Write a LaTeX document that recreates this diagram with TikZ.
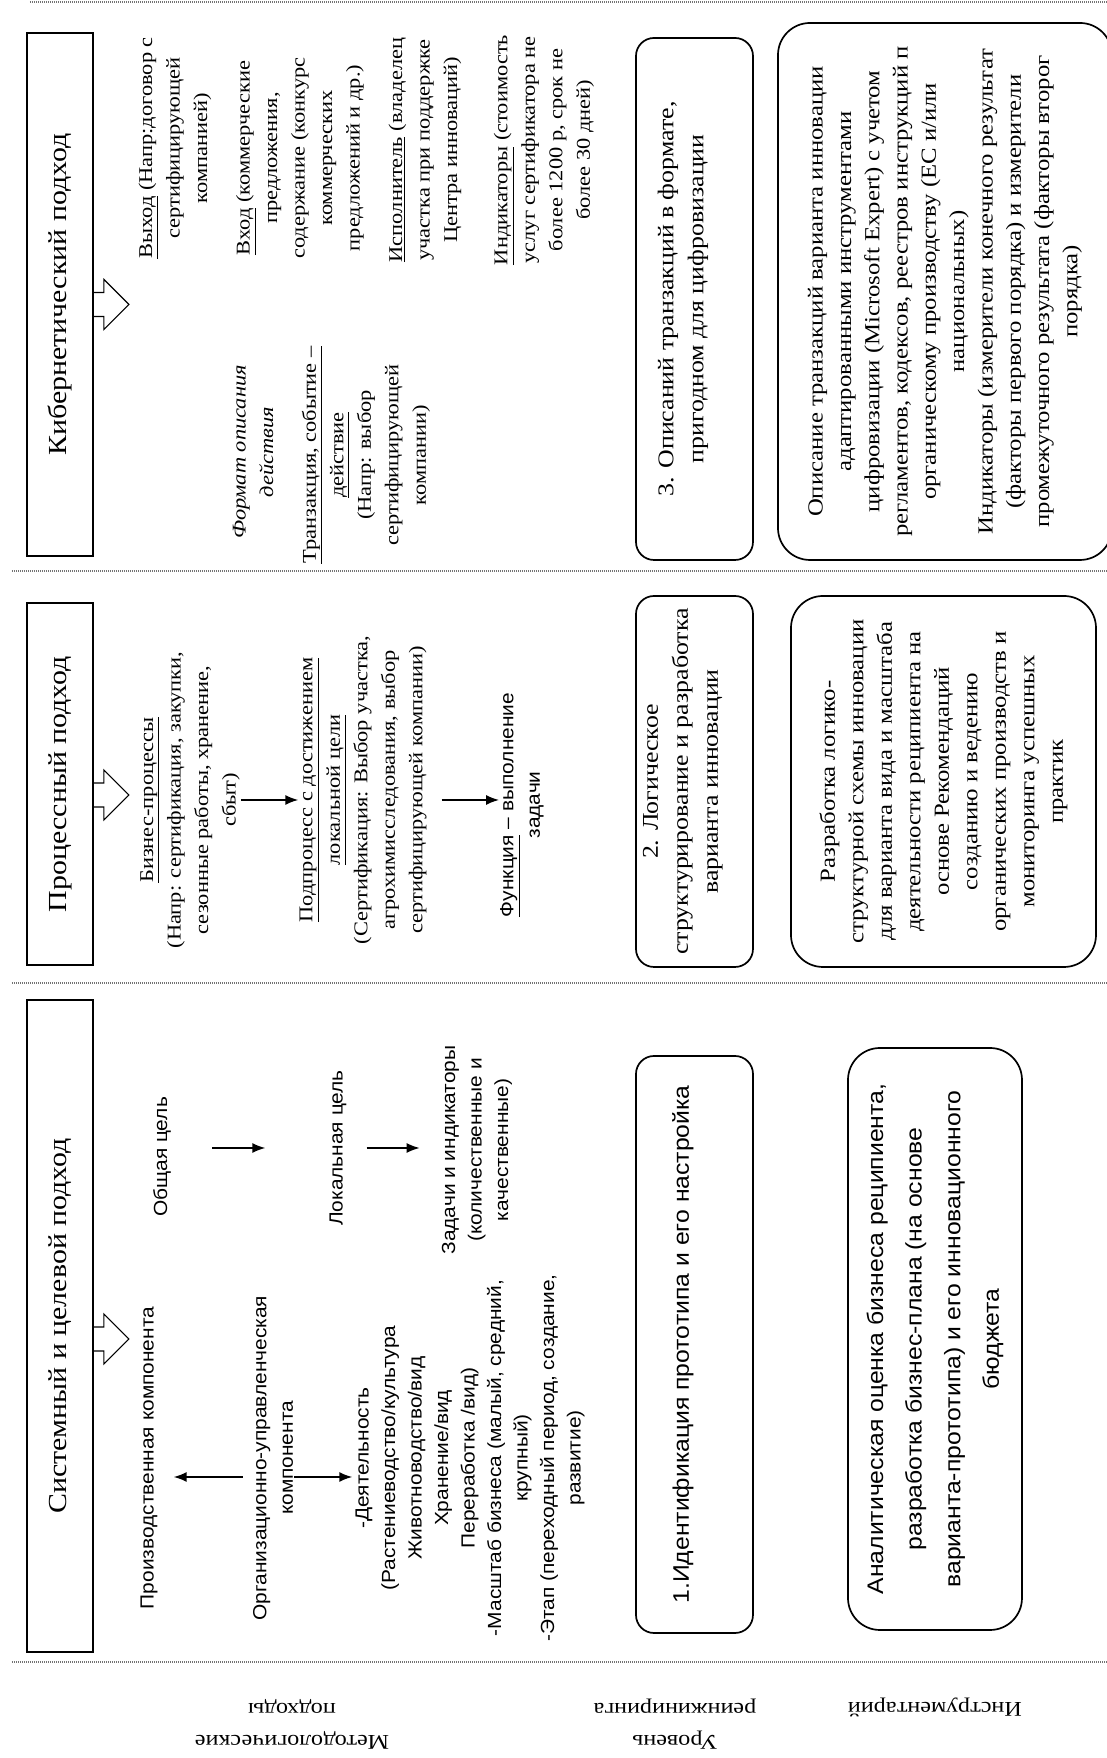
\documentclass[tikz,border=0pt]{standalone}
\usepackage{fontspec}
\setmainfont{Liberation Serif}[FakeStretch=1.15]
\setsansfont{Liberation Sans}[FakeStretch=1.1]
\usepackage{tikz}
\usetikzlibrary{arrows.meta}
\tikzset{>=latex}
\tikzstyle{header}=[draw,line width=1.8,inner sep=0,minimum height=66,
                    font=\fontsize{26}{30}\selectfont]
\tikzstyle{level}=[draw,line width=1.7,rounded corners=18pt,inner sep=0,minimum height=117,
                   text depth=28pt,align=center,font=\fontsize{22.5}{30}\selectfont]
\tikzstyle{tool}=[draw,line width=1.7,rounded corners=32pt,inner sep=0,
                  align=center,font=\fontsize{21.5}{28.5}\selectfont]
\tikzstyle{note}=[align=center,inner sep=1,font=\fontsize{19.5}{27.5}\selectfont]
\tikzstyle{snote}=[align=center,inner sep=1,font=\sffamily\fontsize{19}{26.5}\selectfont]
\tikzstyle{rowname}=[align=center,rotate=90,inner sep=0,font=\fontsize{21}{32}\selectfont]
\tikzstyle{link}=[-{Latex[length=13,width=10]},line width=1.6]
\tikzstyle{divider}=[line width=1.6pt,black!55,dash pattern=on 1pt off 1pt]
\tikzset{fatarrow/.pic={\draw[line width=1.2] (-12,0) -- (-12,-10) -- (-25,-10) -- (0,-35)
                        -- (25,-10) -- (12,-10) -- (12,0);}}

\begin{document}
\begin{tikzpicture}[x=1pt,y=1pt,rotate=90,transform shape]
  \def\L{1758}   % sheet length
  \def\B{1107}   % sheet breadth
  \def\hy{1047}  % header row
  \def\ly{412.5} % level row
  \path[use as bounding box,clip] (0,0) rectangle (\L,\B);

  % SEPARATORS
  \draw[divider] (1756,1077) -- (1756,0);
  \foreach \X in {96,775,1187}
    \draw[divider] (\X,1095) -- (\X,0);

  % ROW NAMES
  \node[rowname] (meth)  at (34,815) {Методологические\\подходы};
  \node[rowname] (reeng) at (34,432) {Уровень\\реинжиниринга};
  \node[rowname] (tools) at (51,172) {Инструментарий};

  % HEADERS
  \node[header,minimum width=652] (sys)  at (432,\hy)    {Системный и целевой подход};
  \node[header,minimum width=362] (proc) at (974,\hy)    {Процессный подход};
  \node[header,minimum width=523] (kib)  at (1463.5,\hy) {Кибернетический подход};
  \pic at ([xshift=-13pt]sys.south)  {fatarrow};
  \pic at ([xshift=-11pt]proc.south) {fatarrow};
  \pic at ([xshift=-10pt]kib.south)  {fatarrow};

  % SYSTEM APPROACH
  \node[snote] (prod)  at (300,958) {Производственная компонента};
  \node[snote] (org)   at (300,834) {Организационно-управленческая\\компонента};
  \node[snote] (act)   at (300,637) {-Деятельность\\(Растениеводство/культура\\Животноводство/вид\\Хранение/вид\\Переработка /вид)\\-Масштаб бизнеса (малый, средний,\\крупный)\\-Этап (переходный период, создание,\\развитие)};
  \node[snote] (goal)  at (601,945) {Общая цель};
  \node[snote] (lgoal) at (610,769) {Локальная цель};
  \node[snote] (task)  at (608,630) {Задачи и индикаторы\\(количественные и\\качественные)};
  \draw[link,shorten <=9pt,shorten >=15pt] ([xshift=-19pt]org.north) -- ([xshift=-19pt]prod.south);
  \draw[link,shorten >=2pt] ([xshift=-19pt]org.south) -- ([xshift=-19pt]act.north);
  \draw[link,shorten <=40pt,shorten >=63pt] (lgoal.north |- goal.south) -- (lgoal.north);
  \draw[link,shorten <=19pt,shorten >=21pt] (lgoal.south) -- (lgoal.south |- task.north);

  % PROCESS APPROACH
  \node[note] (bp)  at (958,917) {\underline{Бизнес-процессы}\\(Напр: сертификация, закупки,\\сезонные работы, хранение,\\сбыт)};
  \node[note] (sub) at (968,744) {\underline{Подпроцесс с достижением}\\\underline{локальной цели}\\(Сертификация: Выбор участка,\\агрохимисследования, выбор\\сертифицирующей компании)};
  \node[snote] (fn) at (953,585) {\underline{Функция} – выполнение\\задачи};
  \draw[link] (bp.south) -- (bp.south |- sub.north);
  \draw[link,shorten <=14pt] (sub.south -| bp.south) -- (fn.north -| bp.south);

  % CYBERNETIC APPROACH
  \node[note] (outp)  at (1610,932) {\underline{Выход} (Напр:договор с\\сертифицирующей\\компанией)};
  \node[note] (inp)   at (1600,807) {\underline{Вход} (коммерческие\\предложения,\\содержание (конкурс\\коммерческих\\предложений и др.)};
  \node[note] (exec)  at (1608,682) {\underline{Исполнитель} (владелец\\участка при поддержке\\Центра инноваций)};
  \node[note] (ind)   at (1608,563) {\underline{Индикаторы} (стоимость\\услуг сертификатора не\\более 1200 р, срок не\\более 30 дней)};
  \node[note,font=\itshape\fontsize{19.5}{27.5}\selectfont] (fmt) at (1306,854) {Формат описания\\действия};
  \node[note] (trans) at (1303,741) {\underline{Транзакция, событие –}\\\underline{действие}\\(Напр: выбор\\сертифицирующей\\компании)};

  % LEVELS
  \node[level,minimum width=577,font=\sffamily\fontsize{22.5}{30}\selectfont] (lev1) at (413.5,\ly)
    {1.Идентификация прототипа и его настройка};
  \node[level,minimum width=371] (lev2) at (976.5,\ly) {2. Логическое\\структурирование и разработка\\варианта инновации};
  \node[level,minimum width=522] (lev3) at (1459,\ly) {3. Описаний транзакций в формате,\\пригодном для цифровизации};

  % TOOLS
  \node[tool,minimum width=582,minimum height=174,font=\sffamily\fontsize{22.5}{38.6}\selectfont] (tool1) at (419,172)
    {Аналитическая оценка бизнеса реципиента,\\разработка бизнес-плана (на основе\\варианта-прототипа) и его инновационного\\бюджета};
  \node[tool,minimum width=371,minimum height=305] (tool2) at (976.5,163.5)
    {Разработка логико-\\структурной схемы инновации\\для варианта вида и масштаба\\деятельности реципиента на\\основе Рекомендаций\\созданию и ведению\\органических производств и\\мониторинга успешных\\практик};
  \node[tool,minimum width=537,minimum height=334,font=\fontsize{21.5}{28.3}\selectfont] (tool3) at (1466.5,162)
    {Описание транзакций варианта инновации\\адаптированными инструментами\\цифровизации (Microsoft Expert) с учетом\\регламентов, кодексов, реестров инструкций п\\органическому производству (ЕС и/или\\национальных)\\Индикаторы (измерители конечного результат\\(факторы первого порядка) и измерители\\промежуточного результата (факторы второг\\порядка)};
\end{tikzpicture}
\end{document}
